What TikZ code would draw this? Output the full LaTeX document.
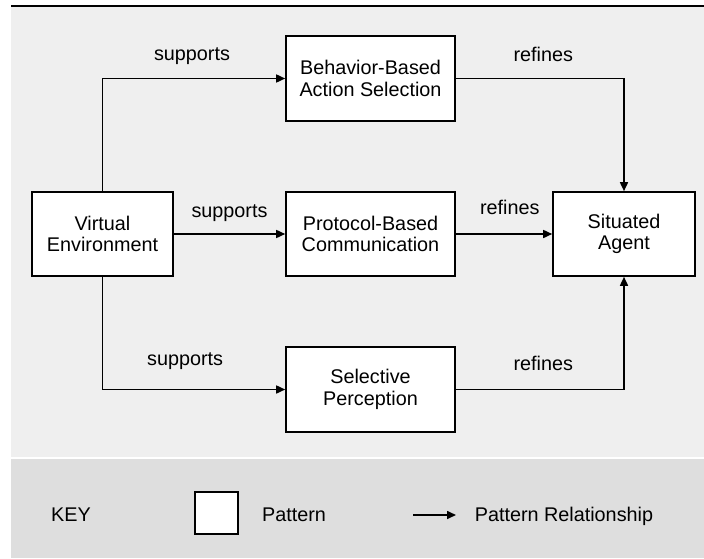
\documentclass[tikz,border=0pt]{standalone}
\usepackage{fontspec}
\setmainfont{Liberation Sans}
\usetikzlibrary{arrows.meta}
\definecolor{panelGray}{HTML}{EFEFEF}
\definecolor{keyGray}{HTML}{DEDEDE}

\begin{document}
\begin{tikzpicture}[x=1pt,y=-1pt,>={Triangle[length=9pt,width=8pt]},line width=1.6pt,
    font=\fontsize{19.8}{21.5}\selectfont,
    patternBox/.style={draw,fill=white,align=center,inner sep=0pt},
    relLabel/.style={inner sep=0pt}]
    \useasboundingbox (0,0) rectangle (704,559);

    % panels
    \fill[panelGray] (11,7) rectangle (704,457);
    \fill[keyGray] (11,459) rectangle (704,558);
    \draw[line width=1.7pt] (11,6) -- (704,6);

    \node[patternBox,minimum width=141pt,minimum height=84pt] (virtualEnv) at (102.5,234) {Virtual\\Environment};
    \node[patternBox,minimum width=169pt,minimum height=85pt] (behaviorSel) at (370.5,78.5) {Behavior-Based\\Action Selection};
    \node[patternBox,minimum width=169pt,minimum height=84pt] (protocolComm) at (370.5,234) {Protocol-Based\\Communication};
    \node[patternBox,minimum width=169pt,minimum height=85pt] (selectivePerc) at (370.5,389.5) {Selective\\Perception};
    \node[patternBox,minimum width=142pt,minimum height=84pt] (situatedAgent) at (624,234) {Situated\\Agent};

    \draw[->] (virtualEnv.north) |- (behaviorSel.west) node[relLabel,pos=0.745,above=13pt] (supportsTop) {supports};
    \draw[->] (virtualEnv.east) -- (protocolComm.west) node[relLabel,pos=0.5,above=12pt] (supportsMid) {supports};
    \draw[->] (virtualEnv.south) |- (selectivePerc.west) node[relLabel,pos=0.726,above=19pt] (supportsBot) {supports};

    \draw[->] (behaviorSel.east) -| (situatedAgent.north) node[relLabel,pos=0.26,above=16pt] (refinesTop) {refines};
    \draw[->] (protocolComm.east) -- (situatedAgent.west) node[relLabel,pos=0.56,above=19pt] (refinesMid) {refines};
    \draw[->] (selectivePerc.east) -| (situatedAgent.south) node[relLabel,pos=0.26,above=18pt] (refinesBot) {refines};

    % key
    \node[anchor=base] (keyLabel) at (71,521) {KEY};
    \node[patternBox,minimum width=43pt,minimum height=42pt] (keyBox) at (216.5,513) {};
    \node[anchor=base] (keyPattern) at (294,521) {Pattern};
    \coordinate (keyArrowStart) at (413,515);
    \coordinate (keyArrowEnd) at (456,515);
    \draw[->] (keyArrowStart) -- (keyArrowEnd);
    \node[anchor=base west,inner sep=0pt] (keyRelation) at (474,521) {Pattern Relationship};
\end{tikzpicture}
\end{document}
